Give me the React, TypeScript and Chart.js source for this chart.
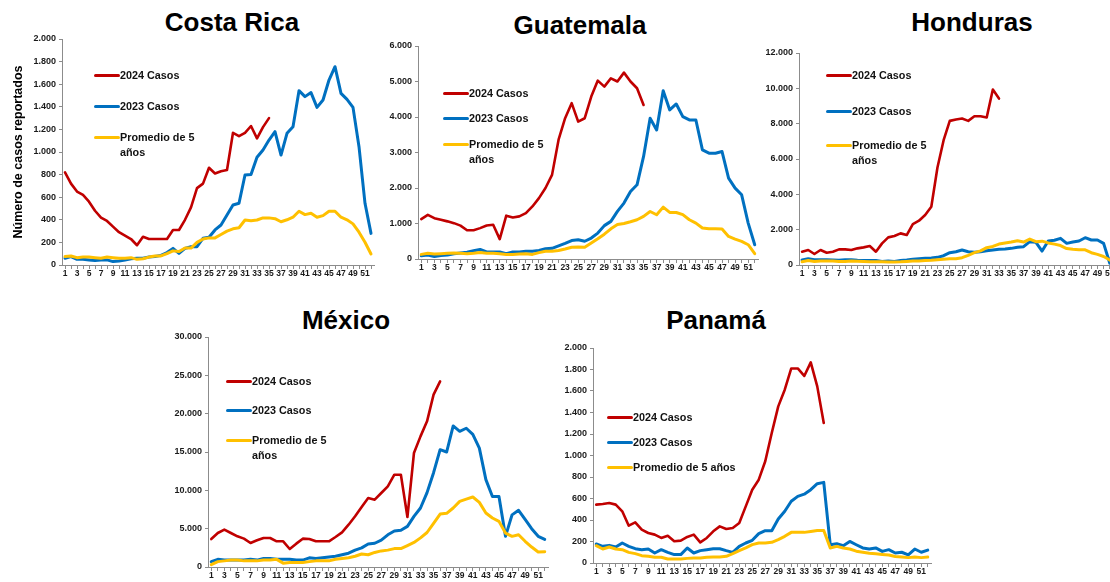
import React, { useEffect, useRef } from 'react';
import { Chart, registerables } from 'chart.js';

Chart.register(...registerables);
Chart.defaults.font.family = '"Liberation Sans", Arial, Helvetica, sans-serif';

// ---------- data ----------
const weeks = [
  '1', '2', '3', '4', '5', '6', '7', '8', '9', '10', '11', '12', '13', '14', '15', '16', '17', '18', '19', '20',
  '21', '22', '23', '24', '25', '26', '27', '28', '29', '30', '31', '32', '33', '34', '35', '36', '37', '38', '39', '40',
  '41', '42', '43', '44', '45', '46', '47', '48', '49', '50', '51', '52',
];

const seriesNames = ['2024 Casos', '2023 Casos', 'Promedio de 5 años'];
const avgWrapped = ['Promedio de 5', 'años'];
const avgSingle = ['Promedio de 5 años'];
const seriesColors = ['#C00000', '#0070C0', '#FFC000'];
const yAxisTitle = 'Número de casos reportados';

// Costa Rica
const cr2024 = [820, 720, 650, 620, 560, 480, 420, 390, 340, 290, 260, 230, 175, 250, 230, 230, 230, 230, 310, 310,
  400, 510, 680, 720, 860, 810, 830, 840, 1170, 1140, 1170, 1230, 1120, 1220, 1300];
const cr2023 = [60, 75, 50, 50, 45, 40, 45, 45, 30, 35, 45, 55, 60, 60, 70, 75, 85, 110, 147, 103,
  147, 162, 162, 236, 245, 310, 354, 442, 531, 546, 796, 800, 953, 1018, 1106, 1180, 973, 1165, 1224, 1543,
  1490, 1526, 1395, 1460, 1637, 1755, 1519, 1466, 1395, 1047, 546, 280];
const crAvg = [75, 80, 65, 70, 70, 65, 60, 70, 65, 60, 60, 65, 50, 55, 70, 80, 80, 100, 125, 120,
  150, 150, 200, 230, 240, 240, 270, 300, 320, 330, 398, 392, 398, 417, 417, 410, 383, 400, 423, 476,
  446, 458, 423, 437, 476, 476, 423, 400, 364, 290, 201, 97];

// Guatemala
const gt2024 = [1125, 1245, 1150, 1105, 1060, 1010, 940, 810, 810, 870, 945, 965, 560, 1220, 1170, 1200, 1290, 1480, 1715, 2000,
  2370, 3360, 3965, 4390, 3870, 3965, 4575, 5025, 4855, 5090, 5000, 5250, 5000, 4810, 4340];
const gt2023 = [90, 110, 70, 100, 110, 150, 170, 190, 230, 270, 200, 200, 200, 150, 200, 200, 220, 220, 240, 290,
  300, 370, 440, 520, 540, 500, 590, 730, 940, 1060, 1340, 1575, 1900, 2090, 2890, 3965, 3636, 4742, 4200, 4367,
  4011, 3917, 3917, 3074, 2981, 2981, 3027, 2278, 1997, 1808, 1012, 402];
const gtAvg = [130, 160, 140, 150, 160, 170, 160, 150, 160, 180, 160, 160, 150, 130, 130, 140, 150, 130, 180, 220,
  220, 240, 280, 330, 340, 330, 450, 570, 700, 850, 970, 1000, 1050, 1105, 1200, 1339, 1246, 1462, 1311, 1311,
  1250, 1105, 1012, 872, 850, 850, 844, 636, 560, 495, 402, 149];

// Honduras
const hn2024 = [754, 848, 622, 848, 697, 754, 885, 885, 848, 942, 998, 1074, 754, 1225, 1564, 1639, 1790, 1696, 2317, 2506,
  2826, 3297, 5520, 7065, 8158, 8233, 8290, 8158, 8421, 8421, 8346, 9929, 9420];
const hn2023 = [283, 350, 300, 300, 300, 290, 270, 300, 300, 270, 250, 250, 250, 200, 220, 200, 250, 280, 320, 350,
  377, 400, 433, 527, 697, 754, 848, 754, 716, 754, 810, 850, 886, 900, 942, 1000, 1036, 1319, 1281, 790,
  1357, 1400, 1508, 1225, 1300, 1357, 1545, 1414, 1414, 1225, 100, 1300];
const hnAvg = [188, 250, 200, 220, 230, 220, 200, 200, 220, 210, 200, 190, 180, 180, 170, 170, 180, 200, 220, 230,
  250, 270, 300, 330, 350, 350, 414, 550, 697, 800, 980, 1050, 1187, 1250, 1300, 1376, 1300, 1470, 1320, 1350,
  1250, 1180, 1100, 930, 886, 870, 860, 697, 600, 480, 282, 150];

// México
const mx2024 = [3650, 4435, 4870, 4435, 4000, 3700, 3130, 3480, 3780, 3780, 3350, 3350, 2350, 3045, 3695, 3650, 3350, 3350, 3350, 3910,
  4520, 5520, 6610, 7825, 9000, 8785, 9650, 10520, 12040, 12040, 6520, 14870, 17040, 19000, 22480, 24220];
const mx2023 = [700, 1000, 900, 900, 900, 900, 1000, 900, 1100, 1100, 1000, 1000, 1000, 900, 900, 1200, 1100, 1200, 1300, 1400,
  1600, 1800, 2200, 2500, 3000, 3100, 3500, 4200, 4700, 4800, 5300, 6600, 7700, 9700, 12300, 15300, 15000, 18400, 17700, 18100,
  17300, 15500, 11400, 9200, 9200, 4000, 6800, 7400, 6200, 5000, 4000, 3600];
const mxAvg = [300, 700, 800, 900, 900, 800, 800, 800, 900, 900, 1000, 500, 600, 600, 600, 700, 800, 800, 800, 1000,
  1100, 1200, 1400, 1700, 1600, 1900, 2100, 2200, 2400, 2400, 2800, 3200, 3800, 4500, 5700, 6900, 7000, 7700, 8560, 8860,
  9130, 8430, 7040, 6390, 5950, 4430, 4000, 4210, 3350, 2600, 1950, 2000];

// Panamá
const pa2024 = [543, 549, 558, 543, 481, 347, 378, 310, 279, 264, 233, 254, 202, 208, 242, 264, 192, 233, 295, 341,
  316, 326, 372, 527, 682, 775, 946, 1209, 1457, 1612, 1810, 1810, 1740, 1866, 1643, 1302];
const pa2023 = [177, 155, 164, 149, 186, 155, 133, 124, 130, 93, 124, 99, 78, 78, 140, 93, 115, 124, 133, 133,
  115, 99, 155, 186, 211, 273, 301, 301, 409, 481, 574, 620, 640, 682, 738, 750, 170, 180, 161, 201,
  170, 140, 130, 140, 108, 124, 93, 100, 75, 130, 100, 120];
const paAvg = [161, 130, 149, 130, 124, 99, 87, 68, 62, 53, 53, 37, 37, 37, 43, 47, 47, 53, 56, 56,
  62, 87, 115, 140, 171, 186, 186, 192, 217, 248, 285, 285, 285, 294, 303, 303, 140, 155, 140, 130,
  110, 100, 90, 85, 80, 75, 60, 55, 50, 55, 50, 55];

// ---------- layout ----------
type PanelSpec = {
  title: string; titleX: number; titleY: number;
  left: number; right: number; top: number; bottom: number;
  yMax: number; yStep: number;
  s2024: number[]; s2023: number[]; avg: number[];
  legendX: number; legendY: number[]; avgLines: string[];
  yTitle?: string; yAxisW: number;
};

const panels: PanelSpec[] = [
  { title: 'Costa Rica', titleX: 232, titleY: 22, left: 62, right: 374, top: 39, bottom: 265, yMax: 2000, yStep: 200,
    s2024: cr2024, s2023: cr2023, avg: crAvg, legendX: 94, legendY: [75, 106.5, 137.5], avgLines: avgWrapped,
    yTitle: yAxisTitle, yAxisW: 55 },
  { title: 'Guatemala', titleX: 580, titleY: 25, left: 418, right: 758, top: 46, bottom: 259, yMax: 6000, yStep: 1000,
    s2024: gt2024, s2023: gt2023, avg: gtAvg, legendX: 443, legendY: [93.5, 118.5, 144], avgLines: avgWrapped, yAxisW: 50 },
  { title: 'Honduras', titleX: 972, titleY: 22, left: 799, right: 1119, top: 53, bottom: 265, yMax: 12000, yStep: 2000,
    s2024: hn2024, s2023: hn2023, avg: hnAvg, legendX: 826, legendY: [75.5, 111, 145.5], avgLines: avgWrapped, yAxisW: 50 },
  { title: 'México', titleX: 346, titleY: 320, left: 208, right: 548, top: 337, bottom: 567, yMax: 30000, yStep: 5000,
    s2024: mx2024, s2023: mx2023, avg: mxAvg, legendX: 226, legendY: [381, 410.5, 440], avgLines: avgWrapped, yAxisW: 50 },
  { title: 'Panamá', titleX: 716, titleY: 320, left: 593, right: 931, top: 348, bottom: 563, yMax: 2000, yStep: 200,
    s2024: pa2024, s2023: pa2023, avg: paAvg, legendX: 607, legendY: [417, 442.5, 467.5], avgLines: avgSingle, yAxisW: 50 },
];

const PAD_TOP = 10;
const PAD_RIGHT = 6;
const X_AXIS_H = 20;
const AXIS_COLOR = '#8c8c8c';
const TICK_COLOR = '#1a1a1a';
const FONT = '"Liberation Sans", Arial, Helvetica, sans-serif';

const fmt = (v: number) => String(v).replace(/\B(?=(\d{3})+(?!\d))/g, '.');

function Panel({ spec }: { spec: PanelSpec }) {
  const ref = useRef<HTMLCanvasElement>(null);
  const plotW = spec.right - spec.left;
  const plotH = spec.bottom - spec.top;
  const cLeft = spec.left - spec.yAxisW;
  const cTop = spec.top - PAD_TOP;
  const cW = spec.yAxisW + plotW + PAD_RIGHT;
  const cH = PAD_TOP + plotH + X_AXIS_H;

  useEffect(() => {
    const chart = new Chart(ref.current as HTMLCanvasElement, {
      type: 'line',
      data: {
        labels: weeks,
        datasets: [
          { label: seriesNames[0], data: spec.s2024, borderColor: seriesColors[0], backgroundColor: seriesColors[0], borderWidth: 2.6, order: 2 },
          { label: seriesNames[1], data: spec.s2023, borderColor: seriesColors[1], backgroundColor: seriesColors[1], borderWidth: 3, order: 1 },
          { label: seriesNames[2], data: spec.avg, borderColor: seriesColors[2], backgroundColor: seriesColors[2], borderWidth: 3, order: 0 },
        ],
      },
      options: {
        responsive: false,
        maintainAspectRatio: false,
        animation: false,
        layout: { padding: { top: PAD_TOP, right: PAD_RIGHT, left: 0, bottom: 0 } },
        plugins: { legend: { display: false }, tooltip: { enabled: false }, title: { display: false } },
        elements: {
          point: { radius: 0, hoverRadius: 0 },
          line: { tension: 0, borderJoinStyle: 'round', borderCapStyle: 'round' },
        },
        scales: {
          x: {
            type: 'category',
            offset: true,
            grid: { display: true, drawOnChartArea: false, drawTicks: true, tickLength: 4, color: AXIS_COLOR, offset: false },
            border: { display: true, color: AXIS_COLOR, width: 1 },
            ticks: {
              autoSkip: false, maxRotation: 0, minRotation: 0, padding: 0, color: TICK_COLOR,
              font: { size: 8.5, weight: 'bold' },
              callback: (_v: any, i: number) => (i % 2 === 0 ? weeks[i] : ''),
            },
            afterFit: (s: any) => { s.height = X_AXIS_H; },
          },
          y: {
            min: 0,
            max: spec.yMax,
            grid: { display: true, drawOnChartArea: false, drawTicks: true, tickLength: 3, color: AXIS_COLOR },
            border: { display: true, color: AXIS_COLOR, width: 1 },
            ticks: {
              stepSize: spec.yStep, padding: 3, color: TICK_COLOR,
              font: { size: 9, weight: 'bold' },
              callback: (v: any) => fmt(Number(v)),
            },
            title: spec.yTitle
              ? { display: true, text: spec.yTitle, color: '#000', font: { size: 12.5, weight: 'bold' }, padding: { top: 4, bottom: 4 } }
              : { display: false },
            afterFit: (s: any) => { s.width = spec.yAxisW; },
          },
        },
      },
    } as any);
    return () => chart.destroy();
  }, []);

  const labelLines = [[seriesNames[0]], [seriesNames[1]], spec.avgLines];

  return (
    <>
      <div
        style={{
          position: 'absolute', left: spec.titleX, top: spec.titleY - 13, transform: 'translateX(-50%)',
          font: `bold 26px ${FONT}`, lineHeight: '26px', whiteSpace: 'nowrap', color: '#000',
        }}
      >
        {spec.title}
      </div>
      <canvas
        ref={ref}
        width={cW}
        height={cH}
        style={{ position: 'absolute', left: cLeft, top: cTop, width: cW, height: cH }}
      />
      {labelLines.map((lines, k) => (
        <React.Fragment key={k}>
          <div
            style={{
              position: 'absolute', left: spec.legendX, top: spec.legendY[k] - 1.5, width: 26, height: 3,
              background: seriesColors[k], borderRadius: 1.5,
            }}
          />
          <div
            style={{
              position: 'absolute', left: spec.legendX + 26, top: spec.legendY[k] - 7.4,
              font: `bold 10.8px ${FONT}`, lineHeight: '15px', whiteSpace: 'nowrap', color: '#111',
            }}
          >
            {lines.map((l, j) => <div key={j}>{l}</div>)}
          </div>
        </React.Fragment>
      ))}
    </>
  );
}

export default function App() {
  return (
    <div
      style={{
        position: 'fixed', left: 0, top: 0, width: 1110, height: 582, overflow: 'hidden', background: '#fff',
      }}
    >
      {panels.map((p) => <Panel key={p.title} spec={p} />)}
    </div>
  );
}
